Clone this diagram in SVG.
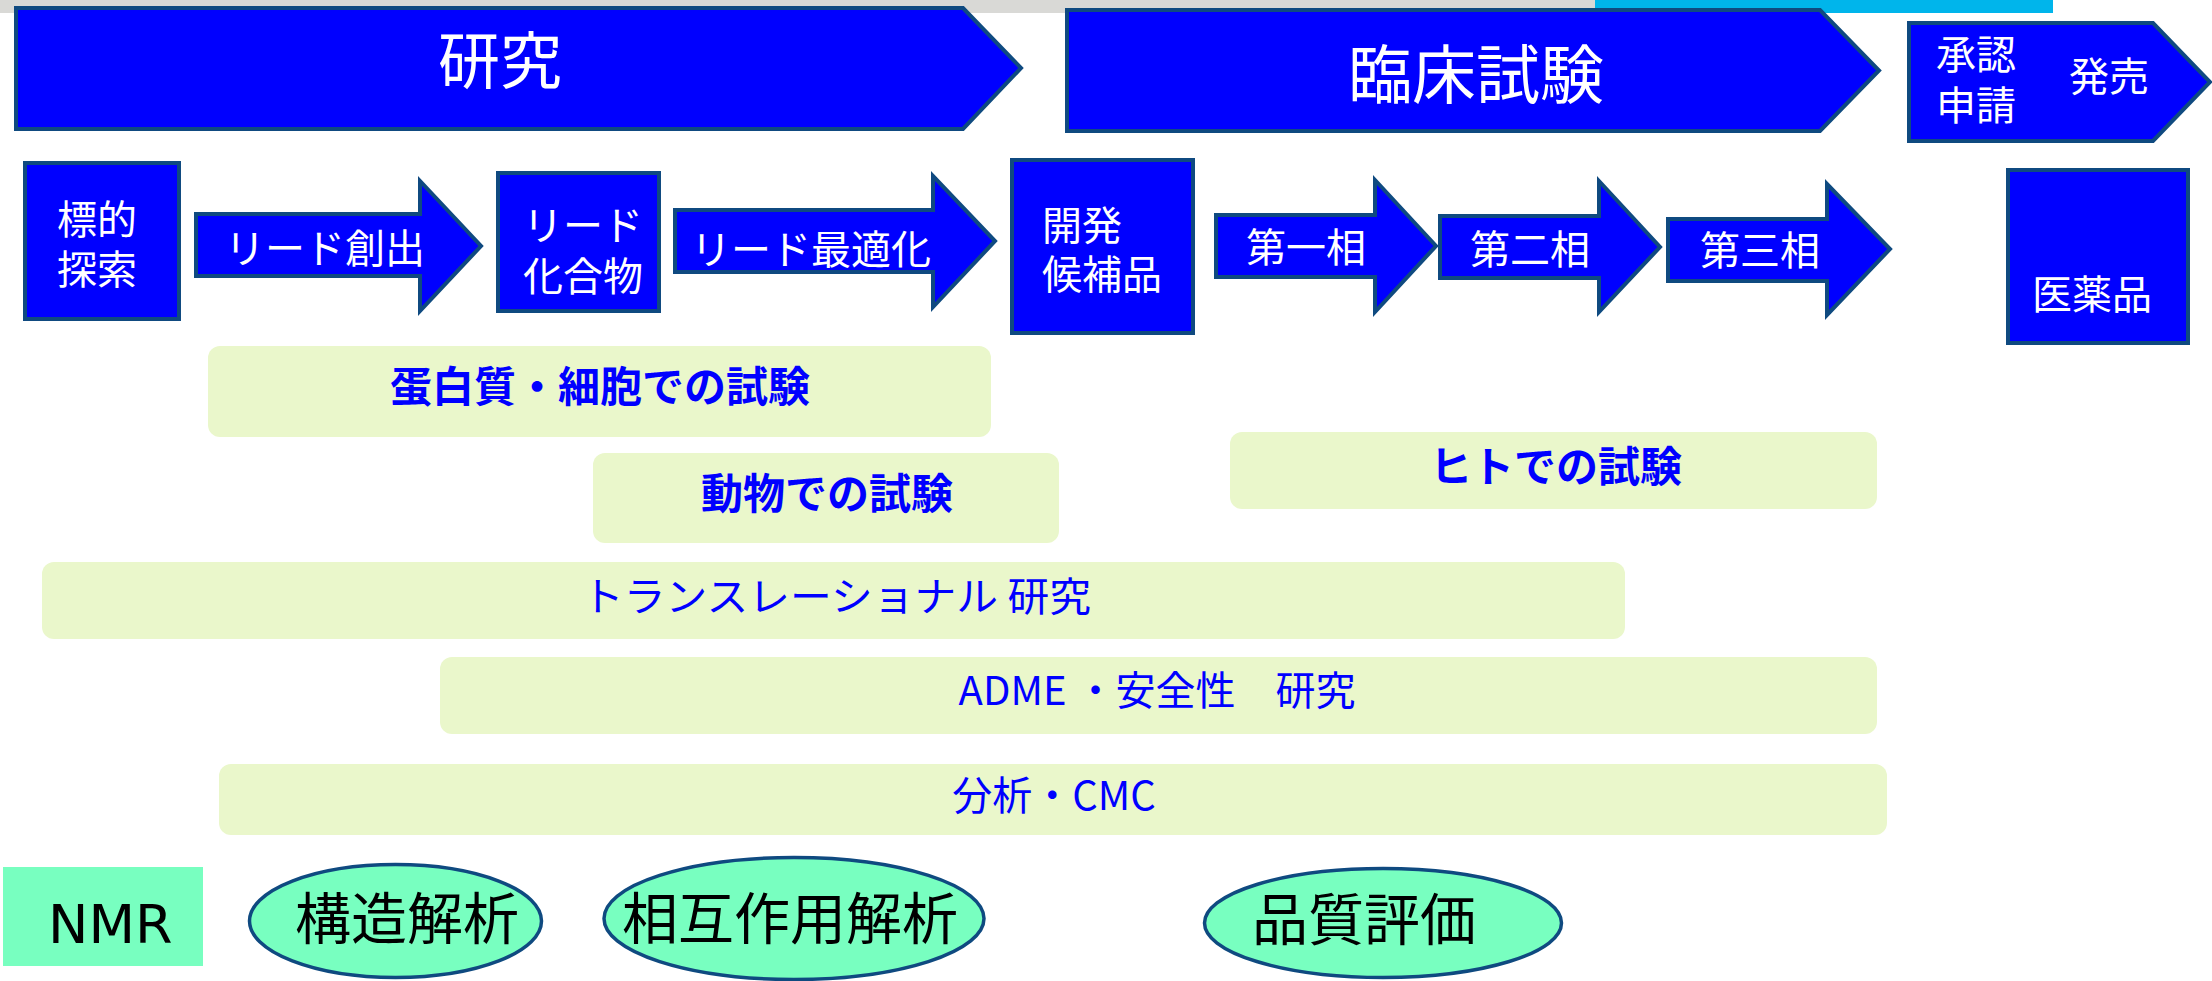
<svg xmlns="http://www.w3.org/2000/svg" width="2212" height="981" viewBox="0 0 2212 981">
<style>
.blk{fill:#0000FF;stroke:#0F4A80;stroke-width:4;stroke-linejoin:miter}
.wt{fill:#FFFFFF;font-family:"Noto Sans CJK JP","Noto Sans",sans-serif}
.band{fill:#EAF7CB}
.bt{fill:#0000FF;font-family:"Noto Sans CJK JP",sans-serif;font-size:40px}
.bb{fill:#0000FF;font-family:"Noto Sans CJK JP",sans-serif;font-size:42px;font-weight:700}
.ell{fill:#78FFC0;stroke:#0F4A80;stroke-width:3.5}
.kt{fill:#000000;font-family:"Noto Sans CJK JP",sans-serif;font-size:56px}
</style>
<rect x="0" y="0" width="1595" height="13" fill="#D9D9D6"/>
<rect x="1595" y="0" width="458" height="13" fill="#00B5EB"/>

<g id="phase-research">
<polygon class="blk" points="16,8 963,8 1021,68 963,129 16,129"/>
<text class="wt" x="500" y="84" font-size="62" text-anchor="middle">研究</text>
</g>
<g id="phase-clinical">
<polygon class="blk" points="1067,10 1820,10 1879,70.5 1820,131 1067,131"/>
<text class="wt" x="1476" y="98" font-size="64" text-anchor="middle">臨床試験</text>
</g>
<g id="phase-approval">
<polygon class="blk" points="1909,23 2153,23 2210,82 2153,141 1909,141"/>
<text class="wt" font-size="40"><tspan x="1936" y="69">承認</tspan><tspan x="1936" y="120">申請</tspan></text>
<text class="wt" x="2069" y="91" font-size="40">発売</text>
</g>

<g id="target">
<rect class="blk" x="25" y="163" width="154" height="156"/>
<text class="wt" font-size="40"><tspan x="57" y="234">標的</tspan><tspan x="57" y="284">探索</tspan></text>
</g>
<g id="lead-creation">
<polygon class="blk" points="196,214 420,214 420,181 481,246 420,311 420,276 196,276"/>
<text class="wt" x="225" y="263" font-size="40">リード創出</text>
</g>
<g id="lead-compound">
<rect class="blk" x="498" y="173" width="161" height="138"/>
<text class="wt" font-size="40"><tspan x="523" y="240">リード</tspan><tspan x="523" y="291">化合物</tspan></text>
</g>
<g id="lead-opt">
<polygon class="blk" points="675,210 933,210 933,176 995,241 933,307 933,272 675,272"/>
<text class="wt" x="691" y="264" font-size="40">リード最適化</text>
</g>
<g id="candidate">
<rect class="blk" x="1012" y="160" width="181" height="173"/>
<text class="wt" font-size="40"><tspan x="1042" y="240">開発</tspan><tspan x="1042" y="289">候補品</tspan></text>
</g>
<g id="phase1">
<polygon class="blk" points="1216,215 1375,215 1375,180 1436,246 1375,312 1375,277 1216,277"/>
<text class="wt" x="1246" y="262" font-size="40">第一相</text>
</g>
<g id="phase2">
<polygon class="blk" points="1440,216 1599,216 1599,181 1660,247 1599,312 1599,278 1440,278"/>
<text class="wt" x="1470" y="264" font-size="40">第二相</text>
</g>
<g id="phase3">
<polygon class="blk" points="1668,219 1827,219 1827,184 1890,249 1827,315 1827,281 1668,281"/>
<text class="wt" x="1700" y="265" font-size="40">第三相</text>
</g>
<g id="drug">
<rect class="blk" x="2008" y="170" width="180" height="173"/>
<text class="wt" x="2032" y="309" font-size="40">医薬品</text>
</g>

<g id="protein-cell">
<rect class="band" x="208" y="346" width="783" height="91" rx="12"/>
<text class="bb" x="600" y="402" text-anchor="middle">蛋白質・細胞での試験</text>
</g>
<g id="animal">
<rect class="band" x="593" y="453" width="466" height="90" rx="12"/>
<text class="bb" x="827" y="509" text-anchor="middle">動物での試験</text>
</g>
<g id="human">
<rect class="band" x="1230" y="432" width="647" height="77" rx="12"/>
<text class="bb" x="1556" y="482" text-anchor="middle">ヒトでの試験</text>
</g>
<g id="translational">
<rect class="band" x="42" y="562" width="1583" height="77" rx="12"/>
<text class="bt" x="582" y="611" textLength="509" lengthAdjust="spacingAndGlyphs">トランスレーショナル 研究</text>
</g>
<g id="adme">
<rect class="band" x="440" y="657" width="1437" height="77" rx="12"/>
<text class="bt" x="1157" y="705" text-anchor="middle">ADME ・安全性　研究</text>
</g>
<g id="cmc">
<rect class="band" x="219" y="764" width="1668" height="71" rx="12"/>
<text class="bt" x="1054" y="810" text-anchor="middle">分析・CMC</text>
</g>

<g id="nmr">
<rect x="3" y="867" width="200" height="99" fill="#78FFC0"/>
<text x="48" y="943" font-family="DejaVu Sans,sans-serif" font-size="54" fill="#000000">NMR</text>
</g>
<g id="structure">
<ellipse class="ell" cx="395.5" cy="921" rx="146" ry="56.5"/>
<text class="kt" x="295" y="939">構造解析</text>
</g>
<g id="interaction">
<ellipse class="ell" cx="794" cy="918.5" rx="190" ry="61"/>
<text class="kt" x="622" y="939">相互作用解析</text>
</g>
<g id="quality">
<ellipse class="ell" cx="1383" cy="923" rx="178.5" ry="54.5"/>
<text class="kt" x="1252" y="940" font-size="55">品質評価</text>
</g>
<g id="connectors"></g>
</svg>
